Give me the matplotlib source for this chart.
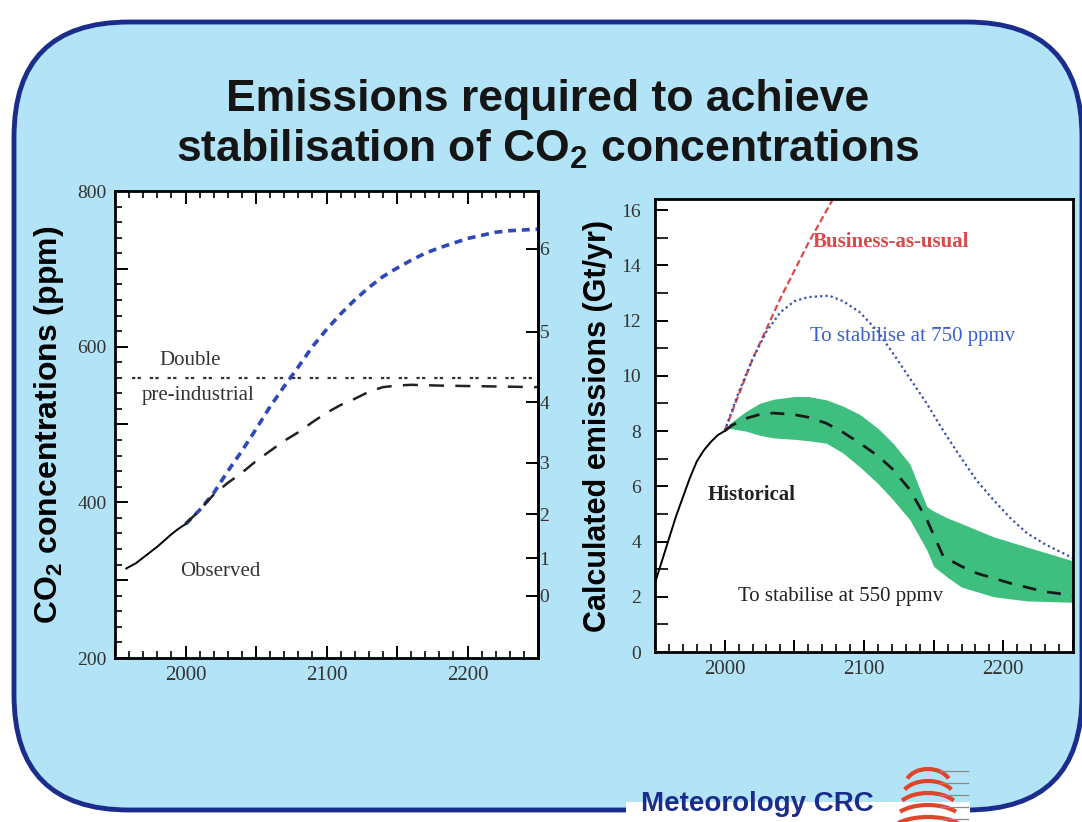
import numpy as np
import matplotlib
matplotlib.use('Agg')
import matplotlib.pyplot as plt
from matplotlib.patches import FancyBboxPatch, Rectangle, Arc
from matplotlib.ticker import MultipleLocator, FuncFormatter

plt.rcParams['mathtext.fontset'] = 'custom'
plt.rcParams['mathtext.rm'] = 'Liberation Sans'
plt.rcParams['mathtext.bf'] = 'Liberation Sans:bold'

# ---- left panel: CO2 concentrations (ppm) ----
obs_years = [1958, 1965, 1970, 1975, 1980, 1985, 1990, 1995, 2000]
obs_ppm = [315, 322, 329, 336, 343, 351, 359, 366, 372]

s750_years = [2000, 2010, 2020, 2030, 2040, 2050, 2060, 2070, 2080, 2090, 2100, 2110, 2120,
              2130, 2140, 2150, 2160, 2170, 2180, 2190, 2200, 2210, 2220, 2230, 2240, 2250]
s750_ppm = [372, 390, 412, 440, 466, 494, 523, 549, 574, 600, 622, 642, 660,
            676, 690, 701, 711, 720, 727, 733, 739, 743, 747, 749, 750, 751]

s550_years = [2000, 2010, 2020, 2030, 2040, 2050, 2060, 2070, 2080, 2090, 2100, 2110, 2120,
              2130, 2140, 2150, 2160, 2180, 2250]
s550_ppm = [372, 390, 410, 425, 438, 453, 466, 479, 490, 503, 515, 525, 533,
            542, 548, 550, 551, 550, 548]

double_years = [1962, 2250]
double_ppm = [560, 560]

forcing_ticks = [0, 1, 2, 3, 4, 5, 6]

# ---- right panel: emissions (Gt/yr) ----
hist_years = [1950, 1955, 1960, 1965, 1970, 1975, 1980, 1985, 1990, 1995, 2000]
hist_emis = [2.5, 3.3, 4.1, 4.9, 5.6, 6.3, 6.9, 7.3, 7.6, 7.85, 8.0]

bau_years = [2000, 2010, 2020, 2030, 2040, 2050, 2060, 2070, 2080]
bau_emis = [8.0, 9.3, 10.6, 11.7, 12.8, 13.8, 14.8, 15.7, 16.6]

e750_years = [2000, 2010, 2020, 2030, 2040, 2050, 2060, 2075, 2085, 2097, 2110, 2121, 2133,
              2145, 2157, 2169, 2181, 2193, 2205, 2217, 2230, 2240, 2250]
e750_emis = [8.0, 9.4, 10.6, 11.6, 12.3, 12.7, 12.85, 12.9, 12.7, 12.3, 11.6, 10.8, 9.9,
             9.0, 8.0, 7.08, 6.2, 5.5, 4.85, 4.3, 3.9, 3.65, 3.4]

e550_years = [2000, 2005, 2015, 2025, 2035, 2049, 2060, 2073, 2085, 2097, 2110, 2121, 2133,
              2145, 2157, 2170, 2181, 2205, 2229, 2250]
e550_emis = [8.0, 8.2, 8.45, 8.6, 8.65, 8.6, 8.5, 8.28, 7.95, 7.56, 7.1, 6.6, 5.87,
             4.8, 3.45, 3.1, 2.85, 2.49, 2.19, 2.05]

band_years = [2003, 2015, 2025, 2035, 2050, 2060, 2073, 2085, 2097, 2110, 2121, 2133,
              2145, 2150, 2160, 2170, 2193, 2217, 2250]
band_upper = [8.25, 8.7, 9.0, 9.15, 9.25, 9.25, 9.13, 8.9, 8.6, 8.1, 7.55, 6.8,
              5.27, 5.1, 4.85, 4.65, 4.17, 3.8, 3.3]
band_lower = [8.1, 8.0, 7.85, 7.75, 7.7, 7.65, 7.56, 7.2, 6.7, 6.1, 5.5, 4.78,
              3.7, 3.1, 2.7, 2.35, 2.0, 1.85, 1.8]

W, H = 1082, 822
fig = plt.figure(figsize=(W / 100, H / 100), dpi=100)
fig.patch.set_facecolor('white')

# slide background with rounded navy border
sky = '#b2e3f6'
navy = '#1b2d8c'
bg = fig.add_axes([0, 0, 1, 1], zorder=0)
bg.set_xlim(0, W)
bg.set_ylim(H, 0)
bg.axis('off')
box = FancyBboxPatch((14, 22), 1068, 788, boxstyle='round,pad=0,rounding_size=115',
                     facecolor=sky, edgecolor=navy, linewidth=3.5)
bg.add_patch(box)
bg.add_patch(Rectangle((626, 801), 344, 21, facecolor='white', edgecolor='none'))
bg.add_patch(Rectangle((626, 790), 344, 12, facecolor=sky, edgecolor='none'))

# logo: stacked red domes with grey lines
for i, yy in enumerate([786, 798, 810, 822, 834]):
    bg.add_patch(Arc((928, yy), 46 + i * 8, 34, theta1=200, theta2=340,
                     color='#e0452b', lw=3.0))
    bg.plot([940, 968], [yy - 15, yy - 15], color='#8a8a8a', lw=0.9)
bg.text(757, 804, 'Meteorology CRC', ha='center', va='center', fontsize=20,
        fontweight='bold', color=navy, family=['Liberation Sans', 'DejaVu Sans'])

title_font = ['Liberation Sans Narrow', 'Liberation Sans', 'DejaVu Sans']
fig.text(0.506, 1 - 99 / H, 'Emissions required to achieve', ha='center', va='center',
         fontsize=32, fontweight='bold', color='#151515', family=title_font)
fig.text(0.506, 1 - 149 / H, r'stabilisation of CO$_\mathbf{2}$ concentrations', ha='center',
         va='center', fontsize=32, fontweight='bold', color='#151515', family=title_font)

serif = ['Liberation Serif', 'DejaVu Serif']
tick_col = '#333333'

# ---- left panel ----
ax1 = fig.add_axes([115 / W, 1 - 658 / H, 423 / W, 467 / H], zorder=2)
ax1.set_facecolor('white')
ax1.plot(obs_years, obs_ppm, color='black', lw=1.4)
ax1.plot(s750_years, s750_ppm, color='#2f47b8', lw=2.6, linestyle=(0, (2.2, 1.6)))
ax1.plot(s550_years, s550_ppm, color='#222222', lw=1.8, linestyle=(0, (6, 4.5)))
ax1.plot(double_years, double_ppm, color='#333333', lw=1.6, linestyle=(0, (1.5, 1, 1.5, 4)))
ax1.set_xlim(1950, 2250)
ax1.set_ylim(200, 800)
ax1.xaxis.set_major_locator(MultipleLocator(50))
ax1.xaxis.set_minor_locator(MultipleLocator(10))
ax1.yaxis.set_major_locator(MultipleLocator(100))
ax1.yaxis.set_minor_locator(MultipleLocator(20))
ax1.xaxis.set_major_formatter(FuncFormatter(lambda v, p: f'{int(v)}' if v % 100 == 0 else ''))
ax1.yaxis.set_major_formatter(FuncFormatter(lambda v, p: f'{int(v)}' if v % 200 == 0 else ''))
ax1.tick_params(axis='both', which='major', direction='in', length=9, width=1.4,
                top=True, right=False, labelcolor=tick_col, pad=6)
ax1.tick_params(axis='x', labelsize=15)
ax1.tick_params(axis='y', labelsize=14)
ax1.tick_params(axis='both', which='minor', direction='in', length=5, width=1.2,
                top=True, right=False)
for lab in ax1.get_xticklabels() + ax1.get_yticklabels():
    lab.set_family(serif)
for sp in ax1.spines.values():
    sp.set_linewidth(2)
ax1.set_ylabel(r'CO$_\mathbf{2}$ concentrations (ppm)', fontsize=23, fontweight='bold',
               family=['Liberation Sans', 'DejaVu Sans'], labelpad=8)

sec = ax1.secondary_yaxis('right', functions=(lambda c: 6.3 * np.log(np.clip(c, 1, None) / 280.0),
                                             lambda f: 280.0 * np.exp(f / 6.3)))
sec.set_yticks(forcing_ticks)
sec.tick_params(direction='in', length=9, width=1.4, labelsize=14, labelcolor=tick_col, pad=1)
sec.spines['right'].set_linewidth(2)
for lab in sec.get_yticklabels():
    lab.set_family(serif)

ax1.text(2003, 582, 'Double', ha='center', va='center', fontsize=15, family=serif, color='#333333')
ax1.text(2009, 537, 'pre-industrial', ha='center', va='center', fontsize=15, family=serif,
         color='#333333')
ax1.text(2024.6, 311, 'Observed', ha='center', va='center', fontsize=15, family=serif,
         color='#333333')

# ---- right panel ----
ax2 = fig.add_axes([655 / W, 1 - 652 / H, 418 / W, 453 / H], zorder=2)
ax2.set_facecolor('white')
ax2.fill_between(band_years, band_lower, band_upper, color='#3fbf7f', lw=0)
ax2.plot(hist_years, hist_emis, color='black', lw=1.4)
ax2.plot(bau_years, bau_emis, color='#d94a4a', lw=1.6, linestyle=(0, (3, 1.5)))
ax2.plot(e750_years, e750_emis, color='#3a4fb0', lw=1.6, linestyle=(0, (1, 1.4)))
ax2.plot(e550_years, e550_emis, color='#1a1a1a', lw=2.0, linestyle=(0, (5, 4)))
ax2.set_xlim(1950, 2250)
ax2.set_ylim(0, 16.4)
ax2.xaxis.set_major_locator(MultipleLocator(50))
ax2.xaxis.set_minor_locator(MultipleLocator(10))
ax2.yaxis.set_major_locator(MultipleLocator(2))
ax2.yaxis.set_minor_locator(MultipleLocator(1))
ax2.xaxis.set_major_formatter(FuncFormatter(lambda v, p: f'{int(v)}' if v % 100 == 0 else ''))
ax2.tick_params(axis='both', which='major', direction='in', length=9, width=1.4,
                labelcolor=tick_col)
ax2.tick_params(axis='x', labelsize=15, pad=6)
ax2.tick_params(axis='y', labelsize=14, pad=10)
ax2.tick_params(axis='both', which='minor', direction='in', length=6, width=1.2)
ax2.tick_params(axis='y', which='both', length=9)
for lab in ax2.get_xticklabels() + ax2.get_yticklabels():
    lab.set_family(serif)
for sp in ax2.spines.values():
    sp.set_linewidth(2)
ax2.set_ylabel('Calculated emissions (Gt/yr)', fontsize=22, fontweight='bold',
               family=['Liberation Sans', 'DejaVu Sans'], labelpad=6)

ax2.text(2063, 14.85, 'Business-as-usual', ha='left', va='center', fontsize=15,
         family=serif, color='#d94a4a', fontweight='bold')
ax2.text(2061, 11.42, 'To stabilise at 750 ppmv', ha='left', va='center', fontsize=15,
         family=serif, color='#3a5fd0')
ax2.text(1988, 5.69, 'Historical', ha='left', va='center', fontsize=15,
         family=serif, color='#222222', fontweight='bold')
ax2.text(2009.6, 2.0, 'To stabilise at 550 ppmv', ha='left', va='center', fontsize=15,
         family=serif, color='#222222')

fig.savefig('out.png', dpi=100, facecolor=fig.get_facecolor())
